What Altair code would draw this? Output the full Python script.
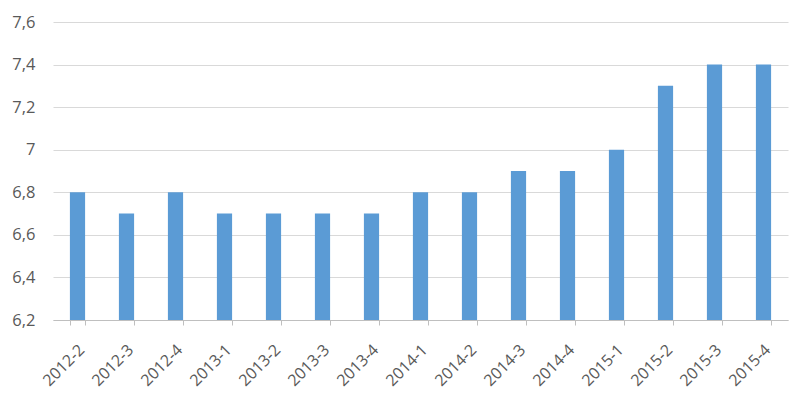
import altair as alt
import pandas as pd

quarters = ["2012-2", "2012-3", "2012-4", "2013-1", "2013-2", "2013-3", "2013-4",
            "2014-1", "2014-2", "2014-3", "2014-4", "2015-1", "2015-2", "2015-3", "2015-4"]
values = [6.8, 6.7, 6.8, 6.7, 6.7, 6.7, 6.7, 6.8, 6.8, 6.9, 6.9, 7.0, 7.3, 7.4, 7.4]
y_ticks = [6.2, 6.4, 6.6, 6.8, 7.0, 7.2, 7.4, 7.6]
y_min, y_max = 6.2, 7.6

df = pd.DataFrame({"q": quarters, "v": values})

font = "Open Sans"
label_color = "#595959"

chart = alt.Chart(df).mark_bar(color="#5B9BD5").encode(
    x=alt.X("q:N", sort=quarters,
            scale=alt.Scale(paddingInner=0.69, paddingOuter=0.345),
            axis=alt.Axis(title=None, labelAngle=-45, labelAlign="right", labelBaseline="middle",
                          labelFontSize=16, labelColor=label_color, labelFont=font,
                          tickBand="extent", tickSize=5, tickColor="#bfbfbf", labelLimit=200,
                          domainColor="#bfbfbf", labelPadding=22, labelOffset=4)),
    y=alt.Y("v:Q", scale=alt.Scale(domain=[y_min, y_max], zero=False, nice=False),
            axis=alt.Axis(title=None, values=y_ticks, domain=False, ticks=False,
                          labelPadding=18, labelFontSize=16.5, labelColor=label_color, labelFont=font,
                          gridColor="#d9d9d9", gridWidth=1,
                          labelExpr="replace(toString(round(datum.value*10)/10), '.', ',')")),
    y2=alt.datum(y_min),
).properties(
    width=735, height=298,
    autosize=alt.AutoSizeParams(type="none"),
    padding={"left": 45, "top": 14, "right": 4, "bottom": 70},
).configure_view(stroke=None).configure_axisX(grid=False)

chart.save("out.html", embed_options={"renderer": "svg", "actions": False})
